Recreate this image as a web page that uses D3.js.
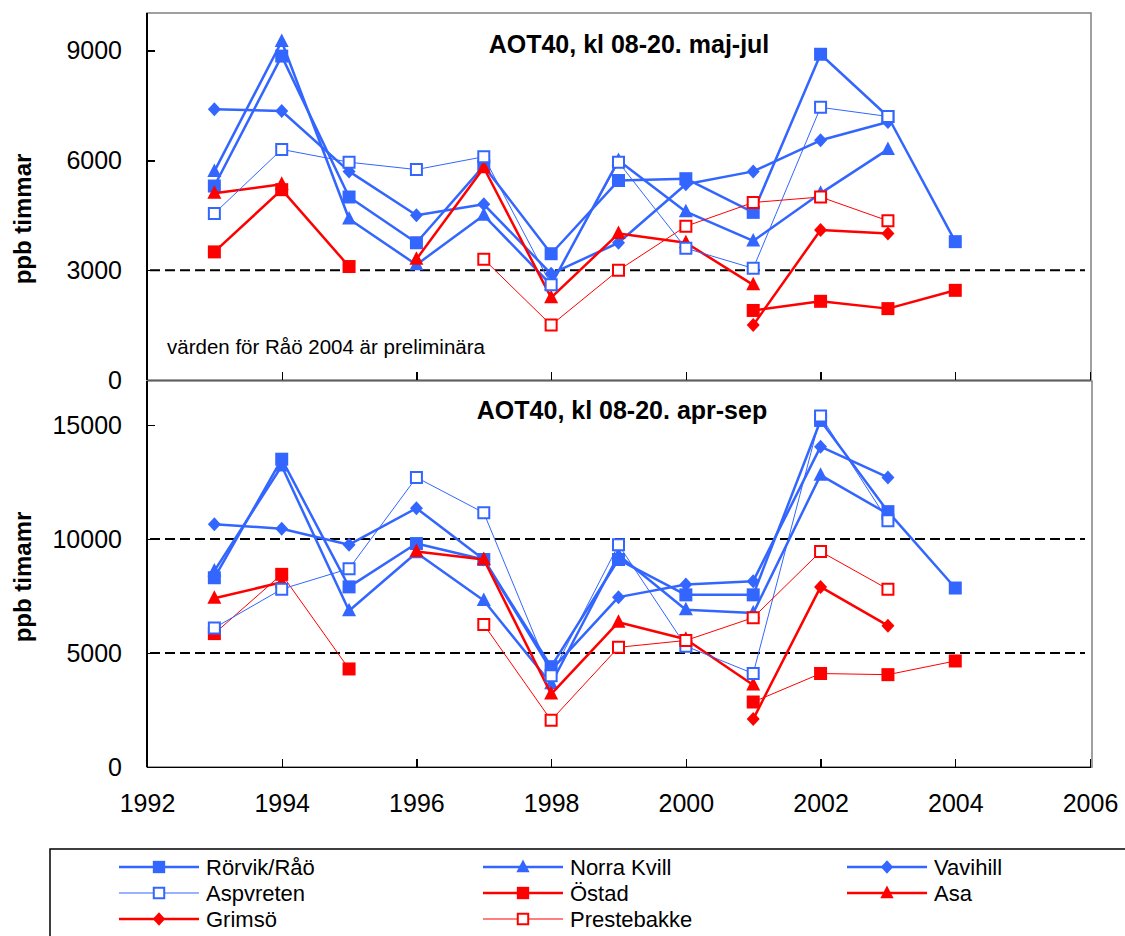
<!DOCTYPE html>
<html lang="sv">
<head>
<meta charset="UTF-8">
<title>AOT40</title>
<script src="https://cdn.jsdelivr.net/npm/d3@7/dist/d3.min.js"></script>
<style>
  body { margin: 0; background: #fff; }
  svg text { font-family: "Liberation Sans", Arial, sans-serif; fill: #000; }
  .axis path, .axis line { stroke: #000; stroke-width: 1.3; shape-rendering: crispEdges; }
  .axis text { font-size: 25px; }
</style>
</head>
<body>
<script>
// --- data ---
var years = [1993, 1994, 1995, 1996, 1997, 1998, 1999, 2000, 2001, 2002, 2003, 2004];
var xTicks = [1992, 1994, 1996, 1998, 2000, 2002, 2004, 2006];
var topTicks = [0, 3000, 6000, 9000];
var bottomTicks = [0, 5000, 10000, 15000];
var topLimit = [3000];
var bottomLimits = [5000, 10000];

// maj-jul
var rorvikTop      = [5300, 8850, 5000, 3750, 5850, 3450, 5450, 5500, 4580, 8900, 7200, 3780];
var norraKvillTop  = [5700, 9250, 4400, 3150, 4500, 2600, 6000, 4600, 3800, 5100, 6300, null];
var vavihillTop    = [7400, 7350, 5700, 4500, 4800, 2900, 3750, 5350, 5700, 6550, 7050, null];
var aspvretenTop   = [4550, 6300, 5950, 5750, 6100, 2600, 5950, 3600, 3050, 7450, 7200, null];
var ostadTop       = [3500, 5200, 3100, null, null, null, null, null, 1900, 2150, 1950, 2450];
var asaTop         = [5100, 5350, null, 3300, 5800, 2250, 4000, 3750, 2600, null, null, null];
var grimsoTop      = [null, null, null, null, null, null, null, null, 1500, 4100, 4000, null];
var prestebakkeTop = [null, null, null, null, 3300, 1500, 3000, 4200, 4850, 5000, 4350, null];

// apr-sep
var rorvikBot      = [8300, 13500, 7900, 9800, 9100, 4400, 9100, 7550, 7550, 15200, 11200, 7850];
var norraKvillBot  = [8600, 13200, 6850, 9400, 7300, 3650, 9300, 6900, 6750, 12800, 11100, null];
var vavihillBot    = [10650, 10450, 9750, 11350, 9100, 4250, 7450, 8000, 8150, 14050, 12700, null];
var aspvretenBot   = [6100, 7800, 8700, 12700, 11150, 4000, 9750, 5300, 4100, 15400, 10800, null];
var ostadBot       = [5850, 8450, 4300, null, null, null, null, null, 2850, 4100, 4050, 4650];
var asaBot         = [7400, 8100, null, 9450, 9100, 3200, 6350, 5600, 3600, null, null, null];
var grimsoBot      = [null, null, null, null, null, null, null, null, 2100, 7900, 6200, null];
var prestebakkeBot = [null, null, null, null, 6250, 2050, 5250, 5550, 6550, 9450, 7800, null];

var BLUE = "#3366ff", RED = "#ff0000";

// legend order; "z" is the drawing order (open squares end up on top)
var stations = [
  {name: "Rörvik/Råö",  color: BLUE, shape: "square",   open: false, top: rorvikTop,      bot: rorvikBot,      wTop: 2.5, wBot: 2.5, z: 0},
  {name: "Norra Kvill", color: BLUE, shape: "triangle", open: false, top: norraKvillTop,  bot: norraKvillBot,  wTop: 2.5, wBot: 2.5, z: 1},
  {name: "Vavihill",    color: BLUE, shape: "diamond",  open: false, top: vavihillTop,    bot: vavihillBot,    wTop: 2.5, wBot: 2.5, z: 2},
  {name: "Aspvreten",   color: BLUE, shape: "square",   open: true,  top: aspvretenTop,   bot: aspvretenBot,   wTop: 1,   wBot: 1,   z: 6},
  {name: "Östad",       color: RED,  shape: "square",   open: false, top: ostadTop,       bot: ostadBot,       wTop: 2.5, wBot: 1,   z: 3},
  {name: "Asa",         color: RED,  shape: "triangle", open: false, top: asaTop,         bot: asaBot,         wTop: 2.5, wBot: 2.5, z: 4},
  {name: "Grimsö",      color: RED,  shape: "diamond",  open: false, top: grimsoTop,      bot: grimsoBot,      wTop: 2.5, wBot: 2.5, z: 5},
  {name: "Prestebakke", color: RED,  shape: "square",   open: true,  top: prestebakkeTop, bot: prestebakkeBot, wTop: 1,   wBot: 1,   z: 7}
];

var w = 1125, h = 936;
var svg = d3.select("body").append("svg").attr("width", w).attr("height", h);

var x = d3.scaleLinear().domain([1992, 2006]).range([147, 1090]);
var yTop = d3.scaleLinear().domain([0, 10000]).range([380, 14]);
var yBot = d3.scaleLinear().domain([0, 17000]).range([767, 379.4]);

var shapes = {
  square: "M-6.5,-6.5H6.5V6.5H-6.5Z",
  openSquare: "M-5.5,-5.5H5.5V5.5H-5.5Z",
  triangle: "M0,-8L7,5.5H-7Z",
  diamond: "M0,-7L6.5,0L0,7L-6.5,0Z"
};

function drawMarker(g, s, tx, ty, k) {
  k = k || 1;
  var p = g.append("path")
    .attr("transform", "translate(" + tx + "," + ty + ") scale(" + k + ")");
  if (s.open) {
    p.attr("d", shapes.openSquare).attr("fill", "#fff")
     .attr("stroke", s.color).attr("stroke-width", 2 / k);
  } else {
    p.attr("d", shapes[s.shape]).attr("fill", s.color);
  }
}

function panel(y, ticks, limits, key, wKey, frame, title, titleX, titleY, ylabel, ylabelY, showX) {
  var g = svg.append("g");

  // plot frame
  g.append("rect")
    .attr("x", frame[0]).attr("y", frame[1])
    .attr("width", frame[2] - frame[0]).attr("height", frame[3] - frame[1])
    .attr("fill", "none").attr("stroke", "#808080").attr("stroke-width", 1.5);

  // axes
  g.append("g").attr("class", "axis")
    .attr("transform", "translate(" + x.range()[0] + ",0)")
    .call(d3.axisLeft(y).tickValues(ticks).tickSizeInner(-8).tickSizeOuter(0).tickPadding(25).tickFormat(d3.format("d")))
    .call(function(a) { a.select(".domain").attr("d", "M0," + frame[3] + "V" + frame[1]); });

  var xa = d3.axisBottom(x).tickValues(xTicks).tickSizeInner(-8).tickSizeOuter(0).tickPadding(27).tickFormat(d3.format("d"));
  if (!showX) xa.tickFormat("");
  g.append("g").attr("class", "axis")
    .attr("transform", "translate(0," + y(0) + ")")
    .call(xa);

  // limit lines
  g.selectAll(".limit").data(limits).enter().append("line")
    .attr("x1", x(1992) + 3).attr("x2", x(2006) - 5)
    .attr("y1", function(d) { return y(d); }).attr("y2", function(d) { return y(d); })
    .attr("stroke", "#000").attr("stroke-width", 2).attr("stroke-dasharray", "10,5");

  // series
  var line = d3.line()
    .defined(function(d) { return d != null; })
    .x(function(d, i) { return x(years[i]); })
    .y(function(d) { return y(d); });

  stations.slice().sort(function(a, b) { return a.z - b.z; }).forEach(function(s) {
    var sg = g.append("g");
    sg.append("path").datum(s[key])
      .attr("d", line).attr("fill", "none")
      .attr("stroke", s.color).attr("stroke-width", s[wKey])
      .attr("stroke-linejoin", "round");
    s[key].forEach(function(v, i) {
      if (v == null) return;
      drawMarker(sg, s, x(years[i]), y(v));
    });
  });

  // titles
  g.append("text").attr("x", titleX).attr("y", titleY)
    .attr("text-anchor", "middle").attr("font-weight", "bold").attr("font-size", 25)
    .text(title);
  g.append("text")
    .attr("transform", "translate(31," + ylabelY + ") rotate(-90)")
    .attr("text-anchor", "middle").attr("font-weight", "bold").attr("font-size", 24)
    .text(ylabel);
  return g;
}

var gTop = panel(yTop, topTicks, topLimit, "top", "wTop", [147, 13, 1091, 380],
  "AOT40, kl 08-20. maj-jul", 629, 53, "ppb timmar", 219, false);
gTop.append("text").attr("x", 167).attr("y", 354).attr("font-size", 20.5)
  .text("värden för Råö 2004 är preliminära");

panel(yBot, bottomTicks, bottomLimits, "bot", "wBot", [147, 381, 1092, 767],
  "AOT40, kl 08-20. apr-sep", 622, 419, "ppb timamr", 577, true);

// legend
var legX = [119, 483, 847], legRow = [867, 893, 919];
var leg = svg.append("g");
leg.append("rect").attr("x", 50).attr("y", 849).attr("width", 1100).attr("height", 120)
  .attr("fill", "none").attr("stroke", "#000").attr("stroke-width", 1.5);
stations.forEach(function(s, i) {
  var lx = legX[i % 3], ly = legRow[Math.floor(i / 3)];
  leg.append("line").attr("x1", lx).attr("x2", lx + 80).attr("y1", ly).attr("y2", ly)
    .attr("stroke", s.color).attr("stroke-width", s.wTop);
  drawMarker(leg, s, lx + 40, ly, 0.95);
  leg.append("text").attr("x", lx + 87).attr("y", ly).attr("dy", "0.36em")
    .attr("font-size", 22).text(s.name);
});
</script>
</body>
</html>
